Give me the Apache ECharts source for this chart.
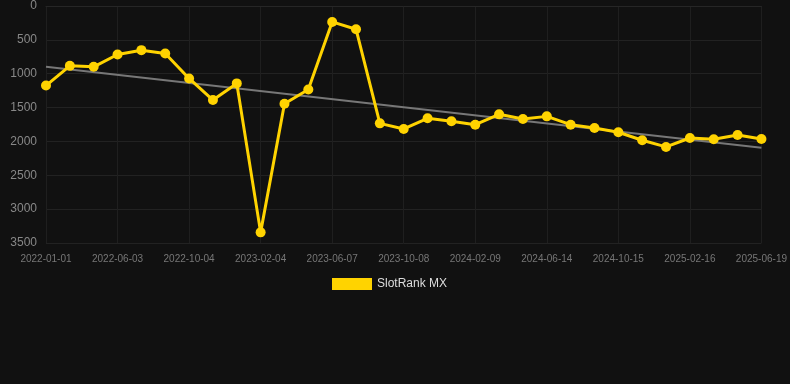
<!DOCTYPE html>
<html>
<head>
<meta charset="utf-8">
<script src="https://cdn.jsdelivr.net/npm/echarts@6/dist/echarts.min.js"></script>
<style>
html,body{margin:0;padding:0;background:#111111;}
#chart{width:790px;height:384px;}
</style>
</head>
<body>
<div id="chart"></div>
<script>
const categories = [
  '2022-01-01','2022-02-21','2022-04-13','2022-06-03','2022-07-14','2022-08-24',
  '2022-10-04','2022-11-14','2022-12-25','2023-02-04','2023-03-17','2023-04-27',
  '2023-06-07','2023-07-18','2023-08-28','2023-10-08','2023-11-18','2023-12-29',
  '2024-02-09','2024-03-21','2024-05-02','2024-06-14','2024-07-25','2024-09-04',
  '2024-10-15','2024-11-25','2025-01-06','2025-02-16','2025-03-29','2025-05-09',
  '2025-06-19'
];
const rankValues = [
  1175, 884, 898, 716, 652, 701,
  1070, 1389, 1143, 3343, 1443, 1232,
  235, 343, 1733, 1816, 1659, 1703,
  1753, 1600, 1669, 1630, 1753, 1802,
  1865, 1983, 2081, 1949, 1968, 1905,
  1963
];
const trendStart = 898;
const trendEnd = 2092;
const seriesName = 'SlotRank MX';

const chart = echarts.init(document.getElementById('chart'));
chart.setOption({
  backgroundColor: '#111111',
  animation: false,
  grid: { left: 46, right: 28, top: 6, bottom: 141 },
  legend: {
    data: [seriesName],
    top: 278,
    left: 332,
    padding: 0,
    icon: 'rect',
    itemWidth: 40,
    itemHeight: 12,
    textStyle: { color: '#dddddd', fontSize: 12, fontFamily: 'Liberation Sans, Arial, sans-serif' }
  },
  xAxis: {
    type: 'category',
    data: categories,
    boundaryGap: false,
    axisLine: { show: true, lineStyle: { color: '#262626' } },
    axisTick: { show: false },
    axisLabel: { interval: 2, color: '#777777', fontSize: 10, margin: 11, fontFamily: 'Liberation Sans, Arial, sans-serif' },
    splitLine: { show: true, interval: 2, lineStyle: { color: '#1f1f1f' } }
  },
  yAxis: {
    type: 'value',
    inverse: true,
    min: 0,
    max: 3500,
    interval: 500,
    axisLine: { show: false },
    axisTick: { show: false },
    axisLabel: {
      color: '#888888', fontSize: 12, margin: 9,
      fontFamily: 'Liberation Sans, Arial, sans-serif',
      formatter: function (v) { return String(v); }
    },
    splitLine: { show: true, lineStyle: { color: '#222222' } }
  },
  series: [
    {
      name: 'trend',
      type: 'line',
      data: [[categories[0], trendStart], [categories[categories.length - 1], trendEnd]],
      symbol: 'none',
      lineStyle: { color: '#777777', width: 2 },
      silent: true,
      z: 1
    },
    {
      name: seriesName,
      type: 'line',
      data: rankValues,
      color: '#ffd300',
      symbol: 'circle',
      symbolSize: 10,
      lineStyle: { color: '#ffd300', width: 3 },
      itemStyle: { color: '#ffd300' },
      z: 2
    }
  ]
});
</script>
</body>
</html>
